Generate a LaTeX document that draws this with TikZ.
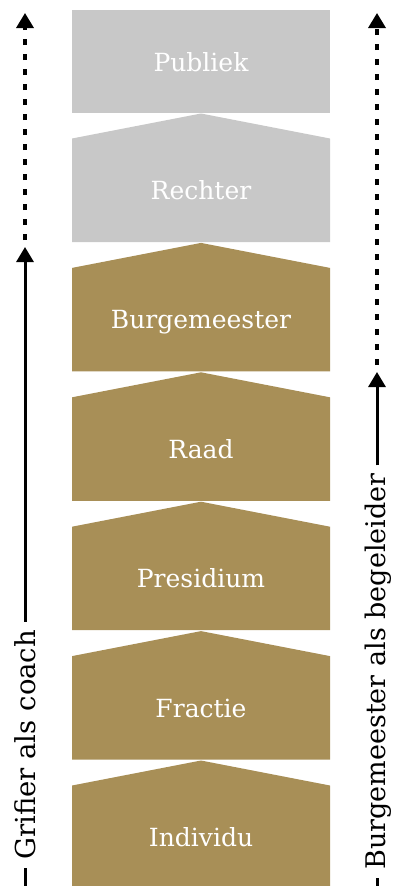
\documentclass[tikz,border=0pt]{standalone}
\usepackage{fontspec}
\setmainfont{DejaVu Serif}
\usetikzlibrary{arrows.meta}
\definecolor{gold}{RGB}{168,143,87}
\definecolor{rungray}{RGB}{200,200,200}
\tikzset{
  boxlabel/.style={text=white, font=\fontsize{25}{30}\selectfont, inner sep=0pt},
  sidelabel/.style={font=\fontsize{27.5}{33}\selectfont, rotate=90, inner xsep=8pt, inner ysep=0pt, text height=21pt, text depth=0pt},
  solidline/.style={line width=3pt},
  dashline/.style={line width=3.4pt, dash pattern=on 6pt off 9pt, shorten <=7pt},
}
\begin{document}
\begin{tikzpicture}[x=1pt, y=-1pt, line join=round, >={Triangle[width=17pt,length=15pt]}]
  \useasboundingbox (0,0) rectangle (392,886);
  % ladder of steps
  \fill[rungray] (72,10) rectangle (330,113);
  \node[boxlabel, anchor=base] (publiek) at (201,71) {Publiek};
  \foreach \p/\name/\txt/\col in {113.5/rechter/Rechter/rungray, 242.9/burgemeester/Burgemeester/gold, 372.3/raad/Raad/gold, 501.7/presidium/Presidium/gold, 631.1/fractie/Fractie/gold, 760.5/individu/Individu/gold}{
    \fill[\col] (72,\p+128.5) -- (72,\p+25) -- (201,\p) -- (330,\p+25) -- (330,\p+128.5) -- cycle;
    \node[boxlabel, anchor=base] (\name) at (201,\p+86) {\txt};
  }
  % left: grifier
  \coordinate (lbot) at (25,886);
  \coordinate (lmid) at (25,247);
  \coordinate (ltop) at (25,13);
  \node[sidelabel, anchor=west] (grifier) at (25,868) {Grifier als coach};
  \draw[solidline] (lbot) -- (grifier.west);
  \draw[->, solidline] (grifier.east) -- (lmid);
  \draw[->, dashline] (lmid) -- (ltop);
  % right: burgemeester
  \coordinate (rbot) at (377,886);
  \coordinate (rmid) at (377,372);
  \coordinate (rtop) at (377,13);
  \node[sidelabel, font=\fontsize{27}{32}\selectfont, text height=17pt, anchor=west] (begeleider) at (377,878) {Burgemeester als begeleider};
  \draw[solidline] (rbot) -- (begeleider.west);
  \draw[->, solidline] (begeleider.east) -- (rmid);
  \draw[->, dashline] (rmid) -- (rtop);
\end{tikzpicture}
\end{document}
